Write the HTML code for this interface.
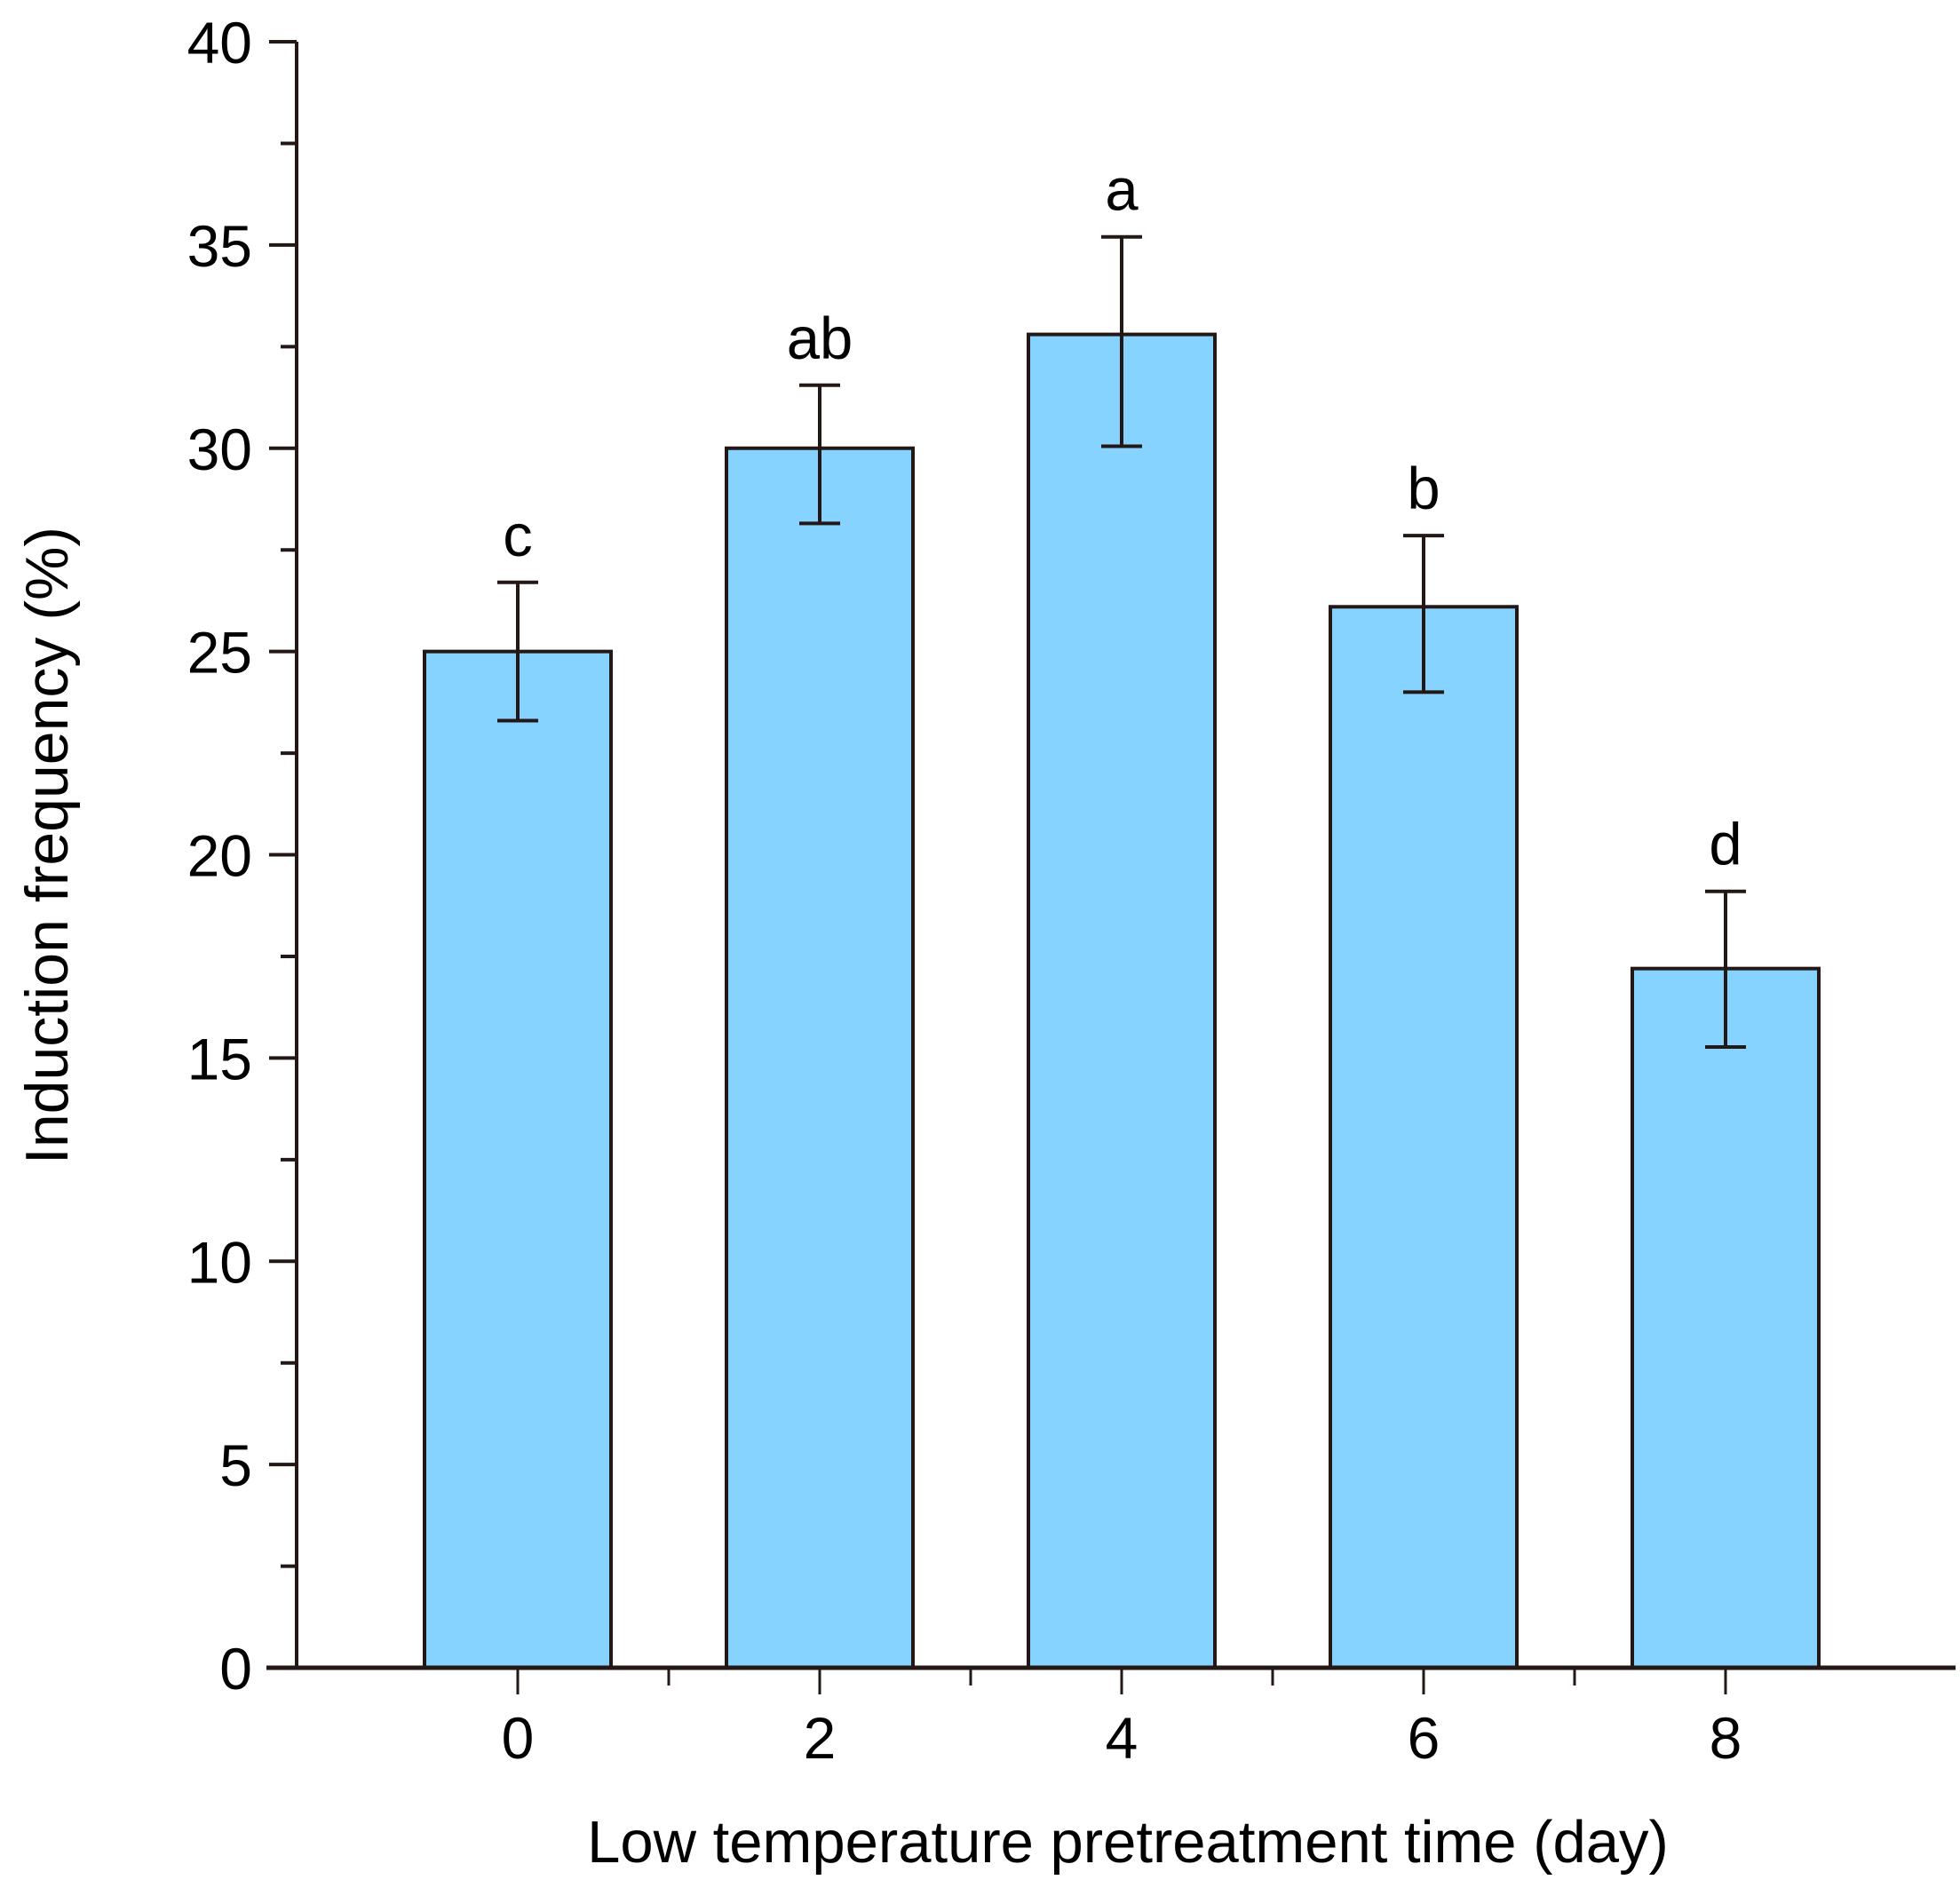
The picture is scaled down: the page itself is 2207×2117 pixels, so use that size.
<!DOCTYPE html>
<html><head><meta charset="utf-8"><style>
html,body{margin:0;padding:0;background:#fff;}
svg{display:block;font-family:"Liberation Sans",Arial,sans-serif;}
</style></head><body>
<svg id="chart" width="2207" height="2117" viewBox="0 0 2207 2117" xmlns="http://www.w3.org/2000/svg">
<text transform="translate(76,952) rotate(-90)" text-anchor="middle" font-size="68" fill="#000">Induction frequency (%)</text>
<text x="1270" y="2097" text-anchor="middle" font-size="67" fill="#000">Low temperature pretreatment time (day)</text>
</svg>
<script>
const categories = ["0","2","4","6","8"];
const values = [25.0, 30.0, 32.8, 26.1, 17.2];
const errUpper = [26.7, 31.55, 35.2, 27.85, 19.1];
const errLower = [23.3, 28.15, 30.05, 24.0, 15.27];
const sigLetters = ["c","ab","a","b","d"];
const yTicks = [0,5,10,15,20,25,30,35,40];
const yMinor = [2.5,7.5,12.5,17.5,22.5,27.5,32.5,37.5];

const svg = document.getElementById('chart');
const NS = 'http://www.w3.org/2000/svg';
const C = '#231815';
const x0 = 334, xEnd = 2202, y0 = 1878, yTop = 47;
const yS = v => y0 - (y0 - yTop) * v / 40;
const step = 340, firstC = 583;
const xC = i => firstC + i * step;
const barW = 210;

function mk(tag, attrs){const e=document.createElementNS(NS,tag);for(const k in attrs)e.setAttribute(k,attrs[k]);svg.appendChild(e);return e;}

categories.forEach((c,i)=>{
  const b = mk('rect',{x:xC(i)-barW/2,y:yS(values[i]),width:barW,height:y0-yS(values[i]),fill:'#87d3ff',stroke:C,'stroke-width':4});
  
  
  const g = mk('path',{d:`M${xC(i)},${yS(errUpper[i])}V${yS(errLower[i])}M${xC(i)-23},${yS(errUpper[i])}H${xC(i)+23}M${xC(i)-23},${yS(errLower[i])}H${xC(i)+23}`,stroke:C,'stroke-width':4,fill:'none'});
  
  
  const t = mk('text',{x:xC(i),y:yS(errUpper[i])-30,'text-anchor':'middle','font-size':67,fill:'#000'});
  t.textContent = sigLetters[i];
  
  
});

const ya = mk('line',{x1:x0,y1:yTop,x2:x0,y2:y0+2,stroke:C,'stroke-width':4});


const xa = mk('line',{x1:300,y1:y0,x2:xEnd,y2:y0,stroke:C,'stroke-width':5});



yTicks.forEach(v=>{
  const l = mk('line',{x1:x0-31,y1:yS(v),x2:x0,y2:yS(v),stroke:C,'stroke-width':4});
  
  
  const t = mk('text',{x:284,y:yS(v)+24,'text-anchor':'end','font-size':66,fill:'#000'});
  t.textContent = v;
  
  
});
yMinor.forEach(v=>{
  const l = mk('line',{x1:x0-18,y1:yS(v),x2:x0,y2:yS(v),stroke:C,'stroke-width':4});
  
  
});
categories.forEach((c,i)=>{
  const l = mk('line',{x1:xC(i),y1:y0,x2:xC(i),y2:y0+30,stroke:C,'stroke-width':3});
  
  
  const t = mk('text',{x:xC(i),y:1980,'text-anchor':'middle','font-size':66,fill:'#000'});
  t.textContent = c;
  
  
});
for(let i=0;i<4;i++){
  const xm = xC(i)+step/2;
  const l = mk('line',{x1:xm,y1:y0,x2:xm,y2:y0+20,stroke:C,'stroke-width':3});
  
  
}
</script>
</body></html>
